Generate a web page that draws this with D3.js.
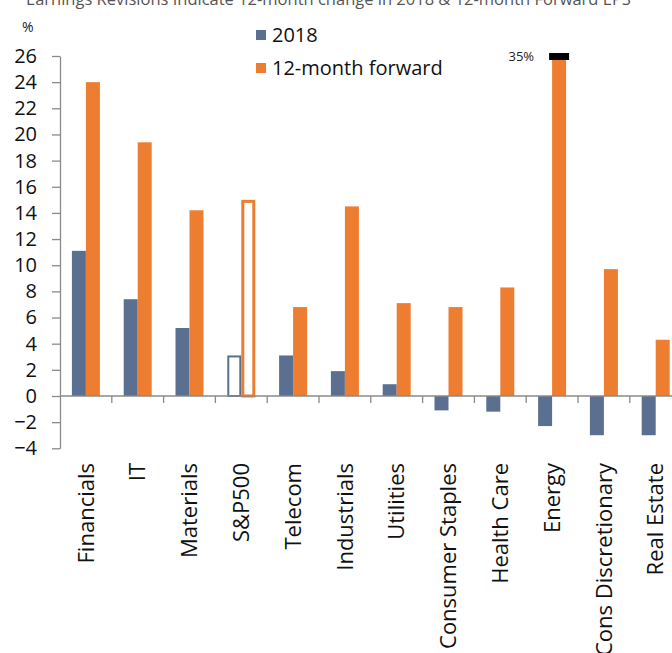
<!DOCTYPE html>
<html><head><meta charset="utf-8">
<script src="https://cdn.jsdelivr.net/npm/d3@7"></script>
<style>
body{margin:0;background:#fff;}
svg{display:block;font-family:"Open Sans",sans-serif;}
</style></head>
<body><svg id="c" width="672" height="653"></svg>
<script>
const categories = ["Financials","IT","Materials","S&P500","Telecom","Industrials","Utilities","Consumer Staples","Health Care","Energy","Cons Discretionary","Real Estate"];
const values2018 = [11.1, 7.4, 5.2, 3.1, 3.1, 1.9, 0.9, -1.1, -1.2, -2.3, -3.0, -3.0];
const valuesFwd = [24.0, 19.4, 14.2, 15.0, 6.8, 14.5, 7.1, 6.8, 8.3, 35, 9.7, 4.3];
const seriesNames = ["2018", "12-month forward"];
const yTicks = [-4,-2,0,2,4,6,8,10,12,14,16,18,20,22,24,26];
const highlight = "S&P500";
const capLabel = "35%";
const title = "Earnings Revisions Indicate 12-month change in 2018 & 12-month Forward EPS";

const colors = ["#5B7090", "#ED7D31"];
const svg = d3.select("#c");
const y = d3.scaleLinear().domain([-4, 26]).range([448.3, 56]);
const x0 = d3.scaleBand().domain(categories).range([60, 60 + 12 * 51.8]).padding(0);
const bw = x0.bandwidth();
const x1 = d3.scaleBand().domain(seriesNames).range([bw/2 - 14, bw/2 + 14]);

// title (clipped at top, as in the source image)
svg.append("text").attr("x", 26).attr("y", 5).attr("font-size", 16.5).attr("fill", "#555").text(title);
svg.append("text").attr("x", 22).attr("y", 32).attr("font-size", 14).attr("fill", "#222").text("%");

// y axis
const yAxis = d3.axisLeft(y).tickValues(yTicks).tickSize(8).tickSizeOuter(0).tickPadding(15).tickFormat(d3.format("d"));
const ga = svg.append("g").attr("transform", "translate(60,0)").call(yAxis);
ga.selectAll("path,line").attr("stroke", "#8a8a8a").attr("stroke-width", 1.3);
ga.selectAll("text").attr("font-size", 20).attr("fill", "#111").attr("font-family", "Open Sans");

// bars
const data = categories.map((c, i) => ({c, v: [values2018[i], valuesFwd[i]]}));
const yMax = y.domain()[1];
data.forEach(d => {
  d.v.forEach((v, k) => {
    const s = seriesNames[k];
    const vv = Math.min(v, yMax);
    const bx = x0(d.c) + x1(s);
    const yy = Math.min(y(vv), y(0)), h = Math.abs(y(vv) - y(0));
    if (d.c === highlight) {
      const sw = k === 0 ? 2 : 3;
      svg.append("rect").attr("x", bx + sw/2).attr("y", yy + sw/2).attr("width", x1.bandwidth() - sw).attr("height", h - sw/2)
        .attr("fill", "#fff").attr("stroke", colors[k]).attr("stroke-width", sw);
    } else {
      svg.append("rect").attr("x", bx).attr("y", yy).attr("width", x1.bandwidth()).attr("height", h).attr("fill", colors[k]);
    }
    if (v > yMax) {
      svg.append("rect").attr("x", bx - 3).attr("y", y(yMax) - 3).attr("width", x1.bandwidth() + 6).attr("height", 7).attr("fill", "#000");
      svg.append("text").attr("x", bx - 18).attr("y", y(yMax) + 5).attr("text-anchor", "end").attr("font-size", 13).attr("fill", "#222").text(capLabel);
    }
  });
});

// x axis at zero
svg.append("line").attr("x1", 60).attr("x2", 672).attr("y1", y(0)).attr("y2", y(0)).attr("stroke", "#8a8a8a").attr("stroke-width", 1.3);
categories.forEach((c, i) => {
  if (i > 0) svg.append("line").attr("x1", x0(c)).attr("x2", x0(c)).attr("y1", y(0)).attr("y2", y(0) + 7).attr("stroke", "#8a8a8a").attr("stroke-width", 1.3);
  svg.append("text").attr("transform", `translate(${x0(c) + bw/2},463) rotate(-90)`)
    .attr("text-anchor", "end").attr("dy", "0.35em").attr("font-size", 22).attr("fill", "#111").text(c);
});

// legend
seriesNames.forEach((s, k) => {
  const ly = 35 + k * 33;
  svg.append("rect").attr("x", 256).attr("y", ly - 5).attr("width", 10).attr("height", 10).attr("fill", colors[k]);
  svg.append("text").attr("x", 272).attr("y", ly).attr("dy", "0.35em").attr("font-size", 20).attr("fill", "#111").text(s);
});
</script></body></html>
